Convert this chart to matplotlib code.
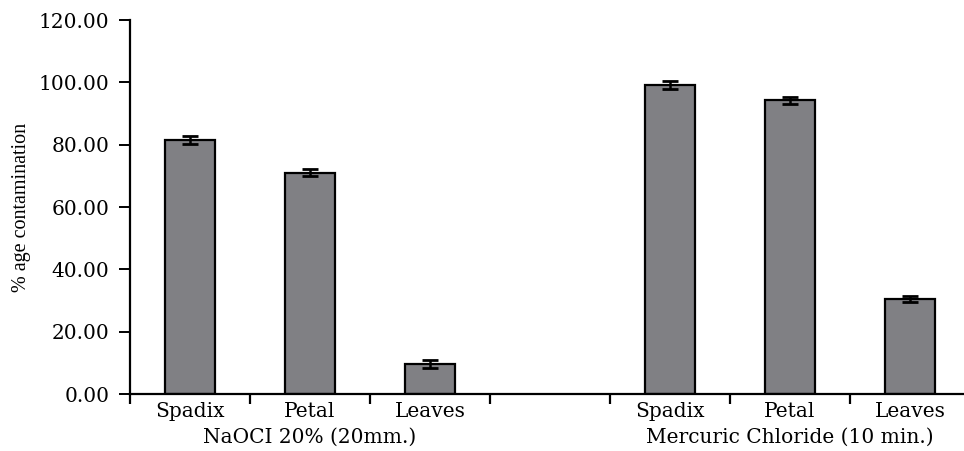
import numpy as np
import matplotlib
matplotlib.use("Agg")
from matplotlib import pyplot as plt

plt.rcParams['font.family'] = ['DejaVu Serif']

parts = ["Spadix", "Petal", "Leaves"]
groups = ["NaOCI 20% (20mm.)", "Mercuric Chloride (10 min.)"]
naocl = [81.5, 71.0, 9.6]
naocl_err = [1.2, 1.1, 1.2]
hgcl2 = [99.1, 94.2, 30.5]
hgcl2_err = [1.2, 1.2, 0.9]

fig = plt.figure(figsize=(9.64, 4.51), dpi=100)
ax = fig.add_axes([130 / 964, 1 - 394 / 451, 840 / 964, 374 / 451])

# one empty slot between the two treatments
pos = np.array([0, 1, 2, 4, 5, 6])
vals = naocl + hgcl2
errs = naocl_err + hgcl2_err
ax.bar(pos, vals, width=0.41, color='#808084', edgecolor='black', linewidth=1.6,
       yerr=errs, capsize=5.5, error_kw=dict(elinewidth=1.8, capthick=2.0, ecolor='black'))

ax.set_xlim(-0.5, 6.5)
ax.set_ylim(0, 120)
ax.set_yticks(np.arange(0, 121, 20))
ax.set_yticklabels([f"{v:.2f}" for v in np.arange(0, 121, 20)], fontsize=14.5)
ax.set_ylabel("% age contamination", fontsize=14.5, family='Liberation Serif')
ax.yaxis.set_label_coords(-99 / 840, 0.5)

# boundary ticks as majors, category names as minors
ax.set_xticks(np.arange(-0.5, 7, 1))
ax.set_xticklabels([])
ax.set_xticks(pos, minor=True)
ax.set_xticklabels(parts + parts, minor=True, fontsize=14.5)
ax.tick_params(axis='x', which='major', direction='out', length=7, width=1.6)
ax.tick_params(axis='x', which='minor', length=0, pad=6)
ax.tick_params(axis='y', direction='out', length=8, width=1.4, pad=7)

for side in ['top', 'right']:
    ax.spines[side].set_visible(False)
for side in ['left', 'bottom']:
    ax.spines[side].set_linewidth(1.6)

for center, name in zip([1, 5], groups):
    ax.text(center, -43 / 374, name, transform=ax.get_xaxis_transform(),
            ha='center', va='center', fontsize=14.5)

fig.savefig("out.png", dpi=100)
